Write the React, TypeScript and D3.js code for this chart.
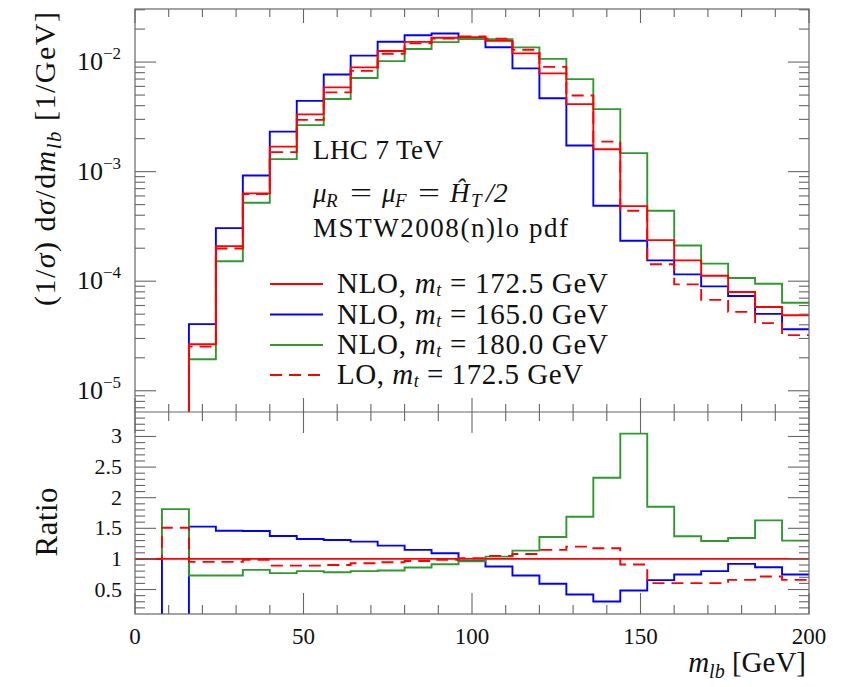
import React from 'react';
import * as d3 from 'd3';

// lower edges of the 8 GeV bins in m_lb
const binLow = [0, 8, 16, 24, 32, 40, 48, 56, 64, 72, 80, 88, 96, 104, 112, 120, 128, 136, 144, 152, 160, 168, 176, 184, 192];
const binWidth = 8;

// (1/sigma) dsigma/dm_lb [1/GeV]
const nlo1725 = [0, 2.5e-6, 2.66e-5, 2.09e-4, 6.33e-4, 1.69e-3, 3.33e-3, 5.88e-3, 8.94e-3, 1.26e-2, 1.53e-2, 1.667e-2, 1.69e-2, 1.56e-2, 1.2e-2, 7.88e-3, 4.13e-3, 1.6e-3, 4.84e-4, 2.37e-4, 1.55e-4, 1.12e-4, 7.98e-5, 5.82e-5, 4.89e-5];
const nlo1650 = [0, 0, 4.06e-5, 3.05e-4, 9.22e-4, 2.32e-3, 4.42e-3, 7.7e-3, 1.146e-2, 1.533e-2, 1.755e-2, 1.82e-2, 1.634e-2, 1.365e-2, 8.75e-3, 4.67e-3, 1.73e-3, 4.88e-4, 2.34e-4, 1.55e-4, 1.155e-4, 8.96e-5, 7.33e-5, 5.03e-5, 3.64e-5];
const nlo1800 = [0, 4.5e-6, 1.94e-5, 1.52e-4, 5.2e-4, 1.3e-3, 2.66e-3, 4.6e-3, 7.15e-3, 1.02e-2, 1.314e-2, 1.522e-2, 1.626e-2, 1.619e-2, 1.363e-2, 1.07e-2, 6.98e-3, 3.72e-3, 1.475e-3, 4.39e-4, 2.12e-4, 1.448e-4, 1.071e-4, 9.49e-5, 6.35e-5];
const lo1725 = [0, 3.8e-6, 2.53e-5, 1.99e-4, 6.23e-4, 1.506e-3, 2.97e-3, 5.29e-3, 8.31e-3, 1.192e-2, 1.48e-2, 1.64e-2, 1.71e-2, 1.638e-2, 1.296e-2, 9.04e-3, 4.96e-3, 1.878e-3, 4.39e-4, 1.43e-4, 9.36e-5, 6.76e-5, 5.25e-5, 4.14e-5, 3.22e-5];

// ratios to NLO, m_t = 172.5 GeV
const ratio1725 = [1, 1, 1, 1, 1, 1, 1, 1, 1, 1, 1, 1, 1, 1, 1, 1, 1, 1, 1, 1, 1, 1, 1, 1, 1];
const ratio1650 = [1, 0, 1.527, 1.461, 1.456, 1.375, 1.326, 1.309, 1.282, 1.217, 1.147, 1.092, 0.967, 0.875, 0.729, 0.593, 0.419, 0.305, 0.484, 0.653, 0.745, 0.8, 0.919, 0.864, 0.745];
const ratio1800 = [1, 1.814, 0.729, 0.729, 0.821, 0.767, 0.8, 0.783, 0.8, 0.81, 0.859, 0.913, 0.962, 1.038, 1.136, 1.358, 1.689, 2.325, 3.047, 1.852, 1.369, 1.293, 1.342, 1.63, 1.299];
const ratioLO = [1, 1.51, 0.951, 0.951, 0.984, 0.891, 0.891, 0.9, 0.93, 0.946, 0.967, 0.984, 1.012, 1.05, 1.08, 1.147, 1.2, 1.174, 0.908, 0.604, 0.604, 0.604, 0.658, 0.712, 0.658];

const xTickLabels = ['0', '50', '100', '150', '200'];
const ratioTickLabels = ['0.5', '1', '1.5', '2', '2.5', '3'];
const decadeLabels = ['−5', '−4', '−3', '−2'];

const legendNames = ['NLO,', 'NLO,', 'NLO,', 'LO,'];
const legendMasses = ['172.5', '165.0', '180.0', '172.5'];

const RED = '#ff0000';
const BLUE = '#0000ff';
const GREEN = '#2e9a2e';
const FRAME = '#666';
const INK = '#111';
const FONT = '"Liberation Serif", "DejaVu Serif", serif';

const L = 135, R = 809, T = 9, MID = 412, B = 614;

export default function App() {
  const x = d3.scaleLinear().domain([0, 200]).range([L, R]);
  const yTop = d3.scaleLog().domain([6.4e-6, 3.05e-2]).range([MID, T]);
  const yRat = d3.scaleLinear().domain([0.1, 3.4]).range([B, MID]);

  const makePts = (vals: number[]) => {
    const pts: [number, number][] = binLow.map((b, i) => [b, vals[i]]);
    pts.push([binLow[binLow.length - 1] + binWidth, vals[vals.length - 1]]);
    return pts;
  };
  const stepTop = (vals: number[]) =>
    d3.line<[number, number]>()
      .x(d => x(d[0]))
      .y(d => (d[1] > 0 ? yTop(d[1]) : MID + 60))
      .curve(d3.curveStepAfter)(makePts(vals)) || '';
  const stepRat = (vals: number[]) =>
    d3.line<[number, number]>()
      .x(d => x(d[0]))
      .y(d => yRat(d[1]))
      .curve(d3.curveStepAfter)(makePts(vals)) || '';

  const xMinor = x.ticks(20);
  const xMajor = x.ticks(4);
  const logTicks = yTop.ticks();
  const isDecade = (v: number) => Math.abs(Math.log10(v) - Math.round(Math.log10(v))) < 1e-6;
  const decades = logTicks.filter(isDecade);
  const ratMinor = yRat.ticks(33);
  const ratMajor = yRat.ticks(6);

  const series = [
    { top: nlo1650, rat: ratio1650, color: BLUE, dash: undefined as string | undefined },
    { top: nlo1800, rat: ratio1800, color: GREEN, dash: undefined },
    { top: nlo1725, rat: ratio1725, color: RED, dash: undefined },
    { top: lo1725, rat: ratioLO, color: RED, dash: '12,7' },
  ];
  const legendColors = [RED, BLUE, GREEN, RED];
  const legendDash = [undefined, undefined, undefined, '12,7'];
  const legendY = [284, 314.5, 345, 375];

  return (
    <svg width={842} height={687} style={{ position: 'absolute', left: 0, top: 0, background: '#fff' }} fontFamily={FONT}>
      <defs>
        <clipPath id="clipTop"><rect x={L} y={T} width={R - L} height={MID - T} /></clipPath>
        <clipPath id="clipRat"><rect x={L} y={MID} width={R - L} height={B - MID} /></clipPath>
      </defs>

      <g clipPath="url(#clipTop)">
        {series.map((s, i) => (
          <path key={i} d={stepTop(s.top)} fill="none" stroke={s.color} strokeWidth={1.9} strokeDasharray={s.dash} />
        ))}
      </g>
      <g clipPath="url(#clipRat)">
        {series.map((s, i) => (
          <path key={i} d={stepRat(s.rat)} fill="none" stroke={s.color} strokeWidth={1.9} strokeDasharray={s.dash} />
        ))}
      </g>

      <rect x={L} y={T} width={R - L} height={B - T} fill="none" stroke={FRAME} strokeWidth={1.2} />
      <line x1={L} x2={R} y1={MID} y2={MID} stroke={FRAME} strokeWidth={1.2} />

      <g stroke={FRAME} strokeWidth={1.1}>
        {xMinor.map(t => {
          const major = xMajor.includes(t);
          const px = x(t);
          return (
            <g key={t}>
              <line x1={px} x2={px} y1={T} y2={T + (major ? 14 : 8)} />
              <line x1={px} x2={px} y1={MID} y2={MID - (major ? 14 : 8)} />
              <line x1={px} x2={px} y1={MID} y2={MID + (major ? 21 : 9)} />
              <line x1={px} x2={px} y1={B} y2={B - (major ? 21 : 9)} />
            </g>
          );
        })}
        {logTicks.map((t, i) => {
          const major = isDecade(t);
          const py = yTop(t);
          if (py < T + 0.5 || py > MID - 0.5) return null;
          return (
            <g key={'l' + i}>
              <line x1={L} x2={L + (major ? 21 : 10)} y1={py} y2={py} />
              <line x1={R} x2={R - (major ? 21 : 10)} y1={py} y2={py} />
            </g>
          );
        })}
        {ratMinor.map((t, i) => {
          const major = ratMajor.some(m => Math.abs(m - t) < 1e-9);
          const py = yRat(t);
          if (py < MID + 0.5 || py > B - 0.5) return null;
          return (
            <g key={'r' + i}>
              <line x1={L} x2={L + (major ? 21 : 10)} y1={py} y2={py} />
              <line x1={R} x2={R - (major ? 21 : 10)} y1={py} y2={py} />
            </g>
          );
        })}
      </g>

      <g fontSize={23} textAnchor="middle" fill={INK}>
        {xMajor.map((t, i) => (
          <text key={t} x={x(t)} y={644}>{xTickLabels[i]}</text>
        ))}
      </g>
      <g fill={INK}>
        {decades.map((t, i) => (
          <text key={t} x={121} y={yTop(t) + 8} textAnchor="end" fontSize={26}>
            10<tspan fontSize={17} dy={-11}>{decadeLabels[i]}</tspan>
          </text>
        ))}
      </g>
      <g fontSize={22} textAnchor="end" fill={INK}>
        {ratMajor.map((t, i) => (
          <text key={t} x={122} y={yRat(t) + 7}>{ratioTickLabels[i]}</text>
        ))}
      </g>

      {/* axis titles */}
      <text transform="translate(55,159) rotate(-90)" textAnchor="middle" fontSize={30} fill={INK}
        textLength={294} lengthAdjust="spacing">
        (1/<tspan fontStyle="italic">σ</tspan>) d<tspan fontStyle="italic">σ</tspan>/d<tspan fontStyle="italic">m</tspan>
        <tspan fontStyle="italic" fontSize={21} dy={6}>lb</tspan>
        <tspan dy={-6}> [1/GeV]</tspan>
      </text>
      <text transform="translate(57,522) rotate(-90)" textAnchor="middle" fontSize={31} fill={INK}
        textLength={69} lengthAdjust="spacing">Ratio</text>
      <text x={806} y={672} textAnchor="end" fontSize={29} fill={INK}>
        <tspan fontStyle="italic">m</tspan>
        <tspan fontStyle="italic" fontSize={20} dy={6}>lb</tspan>
        <tspan dy={-6}> [GeV]</tspan>
      </text>

      {/* annotation */}
      <g fontSize={27} fill={INK}>
        <text x={313} y={159} textLength={130} lengthAdjust="spacing">LHC 7 TeV</text>
        <text x={313} y={202} fontStyle="italic">μ</text>
        <text x={326} y={207} fontStyle="italic" fontSize={19}>R</text>
        <text x={350} y={202} textLength={22} lengthAdjust="spacingAndGlyphs">=</text>
        <text x={382} y={202} fontStyle="italic">μ</text>
        <text x={395} y={207} fontStyle="italic" fontSize={19}>F</text>
        <text x={418} y={202} textLength={22} lengthAdjust="spacingAndGlyphs">=</text>
        <text x={450} y={202} fontStyle="italic">Ĥ</text>
        <text x={471} y={207} fontStyle="italic" fontSize={19}>T</text>
        <text x={486} y={202} fontStyle="italic" fontSize={28}>/2</text>
        <text x={313} y={237} textLength={255} lengthAdjust="spacing">MSTW2008(n)lo pdf</text>
      </g>

      {/* legend */}
      {legendNames.map((name, i) => (
        <g key={i}>
          <line x1={270} x2={323} y1={legendY[i]} y2={legendY[i]} stroke={legendColors[i]} strokeWidth={1.9} strokeDasharray={legendDash[i]} />
          <text x={337} y={legendY[i] + 9} fontSize={29} fill={INK} textLength={lengthFor(name)} lengthAdjust="spacing">
            {name} <tspan fontStyle="italic">m</tspan><tspan fontStyle="italic" fontSize={18} dy={3}>t</tspan><tspan dy={-3}> = {legendMasses[i]} GeV</tspan>
          </text>
        </g>
      ))}
    </svg>
  );
}

function lengthFor(name: string) {
  return name === 'LO,' ? 246 : 271;
}
